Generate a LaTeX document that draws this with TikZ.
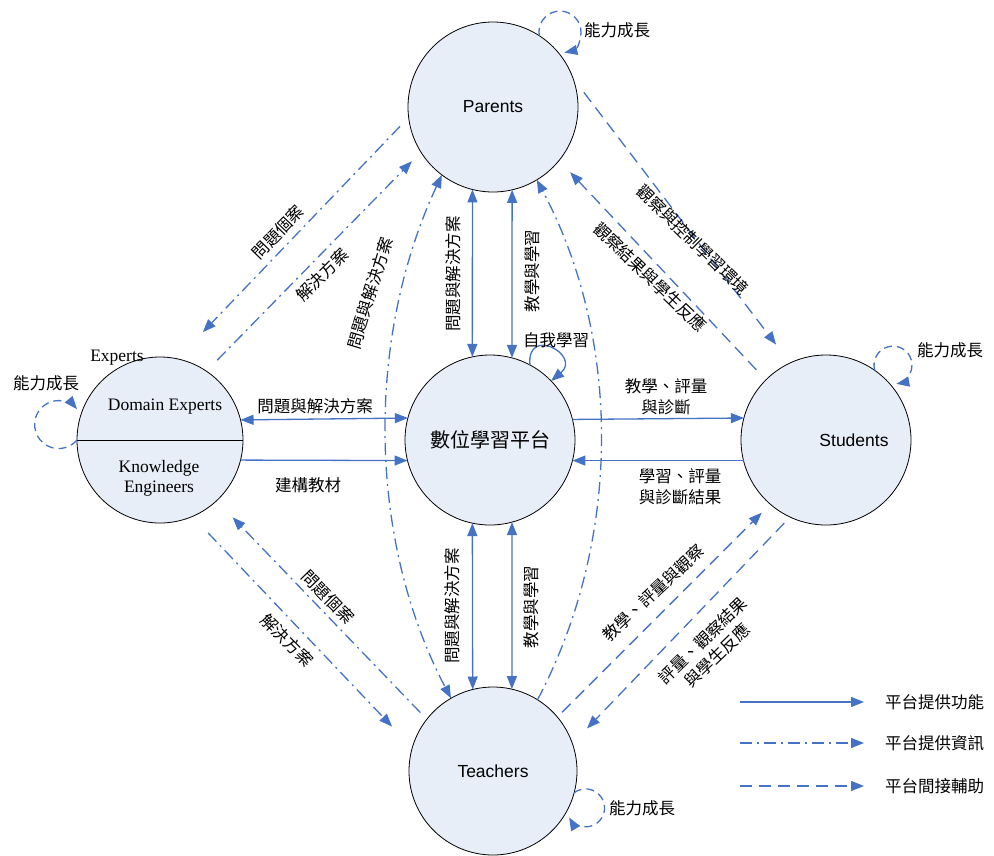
\documentclass[tikz,border=0pt]{standalone}
\usepackage{fontspec}
\setmainfont{Liberation Serif}
\newfontfamily\cjkfont{Noto Sans CJK TC}
\newfontfamily\arialfont{Liberation Sans}
\usetikzlibrary{arrows.meta}

\definecolor{linkblue}{RGB}{68,114,196}
\definecolor{bubble}{RGB}{232,238,247}

\begin{document}
\begin{tikzpicture}[x=1pt,y=1pt,
  actor/.style={circle, draw=black, line width=0.8pt, fill=bubble, inner sep=0pt, outer sep=0pt, minimum size=170pt},
  func/.style={draw=linkblue, line width=1.3pt},
  info/.style={draw=linkblue, line width=1.3pt, dash pattern=on 12pt off 5pt on 2pt off 5pt},
  aid/.style={draw=linkblue, line width=1.3pt, dash pattern=on 12pt off 7pt},
  growloop/.style={draw=linkblue, line width=1.3pt, dash pattern=on 8pt off 5pt},
  headend/.style={-{Triangle[length=13pt,width=10pt]}},
  headboth/.style={{Triangle[length=13pt,width=10pt]}-{Triangle[length=13pt,width=10pt]}},
  lbl/.style={font=\cjkfont\fontsize{16.5}{21}\selectfont, inner sep=1pt, align=center},
  sanslbl/.style={font=\arialfont\fontsize{17.5}{21}\selectfont, inner sep=1pt},
  seriflbl/.style={font=\fontsize{17.5}{20}\selectfont, inner sep=1pt, align=center}
]
\useasboundingbox (0,0) rectangle (994,-855);

% actors
\node[actor] (P) at (493,-107) {};
\node[actor] (C) at (490,-440) {};
\node[actor, minimum size=166pt] (E) at (160,-440) {};
\node[actor] (S) at (826,-440) {};
\node[actor, minimum size=168pt] (T) at (493,-771) {};
\draw[line width=0.8pt] (E.west) -- (E.east);

\node[sanslbl] (tP) at (P.center) {Parents};
\node[lbl, font=\cjkfont\fontsize{20}{24}\selectfont] (tC) at (C.center) {數位學習平台};
\node[sanslbl] (tS) at (854,-440) {Students};
\node[sanslbl] (tT) at (T.center) {Teachers};
\node[seriflbl] (tE) at (117,-358) {Experts};
\node[seriflbl] (tDE) at (165,-407) {Domain Experts};
\node[seriflbl] (tKE) at (159,-478) {Knowledge\\Engineers};

% platform functions (solid)
\draw[func, headboth] (P.-104) -- (C.102);
\draw[func, headboth] (P.-77) -- (C.75);
\draw[func, headboth] (C.-102) -- (T.104.5);
\draw[func, headboth] (C.-75) -- (T.77);
\draw[func, headboth] (E.14.7) -- (C.165.7);
\draw[func, headend] (E.-14.7) -- (C.194.3);
\draw[func, headend] (C.14.3) -- (S.165.7);
\draw[func, headend] (S.194.3) -- (C.-14.3);
\draw[func, headend] (C.62) .. controls +(95:40) and +(40:40) .. (C.44);

\node[lbl, rotate=90] (l1) at (453,-274) {問題與解決方案};
\node[lbl, rotate=90] (l2) at (532,-271) {教學與學習};
\node[lbl, rotate=90] (l3) at (452,-606) {問題與解決方案};
\node[lbl, rotate=90] (l4) at (531,-607) {教學與學習};
\node[lbl] (l5) at (556,-340) {自我學習};
\node[lbl] (l6) at (315,-406) {問題與解決方案};
\node[lbl] (l7) at (308,-485) {建構教材};
\node[lbl] (l8) at (666,-397) {教學、評量\\與診斷};
\node[lbl] (l9) at (680,-487) {學習、評量\\與診斷結果};

% platform information (dash-dot)
\draw[info, headend, shorten <=12.5pt, shorten >=37pt] (P.187.4) -- (E.78.8);
\draw[info, headend, shorten <=15.5pt, shorten >=12.9pt] (E.56.3) -- (P.212.5);
\draw[info, headend, shorten <=9.3pt, shorten >=23.1pt] (T.142.4) -- (E.-47.6);
\draw[info, headend, shorten <=22.8pt, shorten >=29.3pt] (E.-67.1) -- (T.164.3);
\draw[info, headboth] (P.-127) .. controls (365,-340) and (368,-540) .. (T.120);
\draw[info, headend] (T.58) .. controls (622,-540) and (622,-340) .. (P.-59);

\node[lbl, rotate=46] (l10) at (278,-232) {問題個案};
\node[lbl, rotate=45] (l11) at (322,-275) {解決方案};
\node[lbl, rotate=73] (l12) at (370,-293) {問題與解決方案};
\node[lbl, rotate=-45.5] (l13) at (328,-597) {問題個案};
\node[lbl, rotate=-45] (l14) at (287,-640) {解決方案};

% indirect assistance (dashed)
\draw[aid, headend, shorten <=18.1pt, shorten >=23.1pt] (P.20.6) -- (S.115.9);
\draw[aid, headend, shorten <=14pt, shorten >=16.1pt] (S.135.3) -- (P.-39.4);
\draw[aid, headend, shorten <=6.8pt, shorten >=12.1pt] (T.40.2) -- (S.-131.7);
\draw[aid, headend, shorten <=8.4pt, shorten >=21.1pt] (S.-115.2) -- (T.19.3);

\node[lbl, rotate=-44.5] (l15) at (693,-240) {觀察與控制學習環境};
\node[lbl, rotate=-44] (l16) at (650,-277) {觀察結果與學生反應};
\node[lbl, rotate=43] (l17) at (653,-593) {教學、評量與觀察};
\node[lbl, rotate=44] (l18) at (710,-648) {評量、觀察結果\\與學生反應};

% growth loops
\draw[growloop, headend] (P.57) arc[start angle=190, end angle=-78, radius=21];
\draw[growloop, headend] (S.55) arc[start angle=196, end angle=-80, radius=19];
\draw[growloop, headend] (T.-15) arc[start angle=127, end angle=-150, radius=19];
\draw[growloop, headend] (E.180) arc[start angle=-40, end angle=-320, radius=24];

\node[lbl] (g1) at (617,-30) {能力成長};
\node[lbl] (g2) at (950,-350) {能力成長};
\node[lbl] (g3) at (46,-383) {能力成長};
\node[lbl] (g4) at (642,-808) {能力成長};

% legend
\coordinate (k1a) at (740,-702); \coordinate (k1b) at (864,-702);
\coordinate (k2a) at (740,-743); \coordinate (k2b) at (864,-743);
\coordinate (k3a) at (740,-786); \coordinate (k3b) at (864,-786);
\draw[func, headend] (k1a) -- (k1b);
\draw[info, headend] (k2a) -- (k2b);
\draw[aid, headend] (k3a) -- (k3b);
\node[lbl, anchor=west] (k1t) at (884,-702) {平台提供功能};
\node[lbl, anchor=west] (k2t) at (884,-743) {平台提供資訊};
\node[lbl, anchor=west] (k3t) at (884,-786) {平台間接輔助};
\end{tikzpicture}
\end{document}
